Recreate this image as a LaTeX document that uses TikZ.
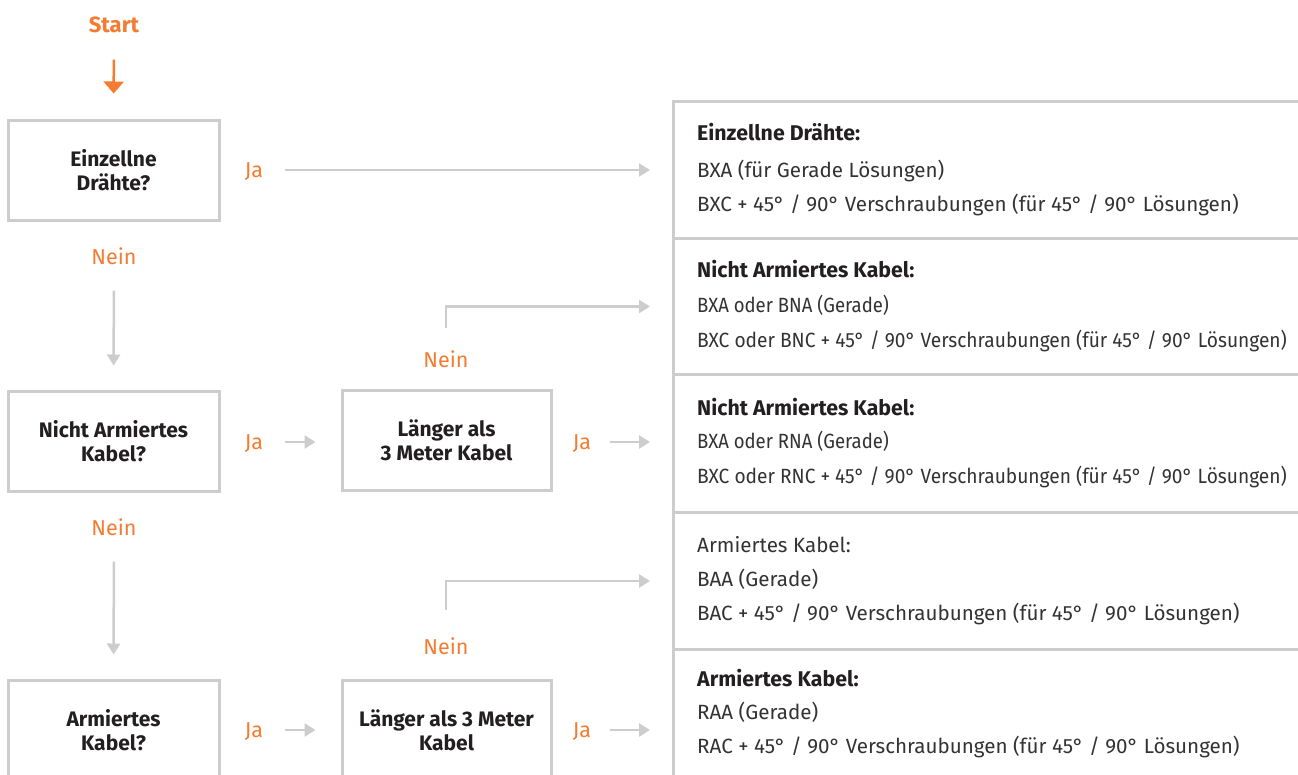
\documentclass[tikz,border=0pt]{standalone}
\usepackage{fontspec}
\usepackage{graphicx}
\setmainfont{Fira Sans}
\usetikzlibrary{arrows.meta}
\definecolor{orng}{HTML}{F47B30}
\definecolor{lgray}{HTML}{CDCDCD}
\definecolor{txt}{HTML}{231F20}
\definecolor{btxt}{HTML}{333333}
\newcommand{\tight}[2]{\scalebox{#1}[1]{#2}}
\tikzset{
 qbox/.style={draw=lgray, line width=3pt, minimum width=211pt, minimum height=100pt, align=center,
   font=\bfseries\fontsize{21}{24}\selectfont, text=txt, inner sep=0pt},
 lbl/.style={text=orng, font=\fontsize{21.5}{22}\selectfont, inner sep=0pt, text height=15pt, text depth=0pt},
 garrow/.style={draw=lgray, line width=2.5pt, -{Triangle[length=11pt,width=13pt]}},
 oarrow/.style={draw=orng, line width=2.5pt, -{Triangle[length=12pt,width=20pt]}},
 sect/.style={draw=lgray, line width=3pt, anchor=north west, minimum width=640pt, inner sep=0pt},
 head/.style={anchor=base west, font=\bfseries\fontsize{21.3}{22}\selectfont, text=txt, inner sep=0pt},
 body/.style={anchor=base west, font=\fontsize{20.6}{22}\selectfont, text=btxt, inner sep=0pt},
}
\begin{document}
\begin{tikzpicture}[x=1pt,y=-1pt]
\path[use as bounding box, clip] (0,0) rectangle (1298,774);
\fill[white] (0,0) rectangle (1298,774);

% left column
\node[lbl, font=\bfseries\fontsize{22}{22}\selectfont] (start) at (114,25) {Start};
\node[qbox] (q1) at (113.5,170) {Einzellne\\Drähte?};
\node[lbl] (ja1) at (254,170) {Ja};
\node[lbl] (nein1) at (114,257) {Nein};
\node[qbox] (q2) at (113.5,441) {Nicht Armiertes\\Kabel?};
\node[lbl] (ja2) at (254,442) {Ja};
\node[qbox, minimum width=209pt] (q3) at (446.5,440) {Länger als\\3 Meter Kabel};
\node[lbl] (ja3) at (582,442) {Ja};
\node[lbl] (nein3) at (446,360) {Nein};
\node[lbl] (nein2) at (114,528) {Nein};
\node[qbox] (q4) at (113.5,730) {Armiertes\\Kabel?};
\node[lbl] (ja4) at (254,730) {Ja};
\node[qbox, minimum width=209pt] (q5) at (446.5,730) {Länger als 3 Meter\\Kabel};
\node[lbl] (ja5) at (582,730) {Ja};
\node[lbl] (nein5) at (446,647) {Nein};

% right panel sections
\node[sect, minimum height=137pt] (s1) at (672,100) {};
\node[sect, minimum height=136pt] (s2) at (672,237) {};
\node[sect, minimum height=138pt] (s3) at (672,373) {};
\node[sect, minimum height=137pt] (s4) at (672,511) {};
\node[sect, minimum height=164pt] (s5) at (672,648) {};

\node[head] (h1) at (697,140) {Einzellne Drähte:};
\node[body] (b1a) at (697,177) {BXA (für Gerade Lösungen)};
\node[body] (b1b) at (697,211) {BXC + 45° / 90° Verschraubungen (für 45° / 90° Lösungen)};

\node[head] (h2) at (697,277) {Nicht Armiertes Kabel:};
\node[body] (b2a) at (697,312) {\tight{0.9}{BXA oder BNA (Gerade)}};
\node[body] (b2b) at (697,347) {\tight{0.93}{BXC oder BNC + 45° / 90° Verschraubungen (für 45° / 90° Lösungen)}};

\node[head] (h3) at (697,415) {Nicht Armiertes Kabel:};
\node[body] (b3a) at (697,448) {\tight{0.9}{BXA oder RNA (Gerade)}};
\node[body] (b3b) at (697,483) {\tight{0.93}{BXC oder RNC + 45° / 90° Verschraubungen (für 45° / 90° Lösungen)}};

\node[body] (h4) at (697,552) {Armiertes Kabel:};
\node[body] (b4a) at (697,586) {BAA (Gerade)};
\node[body] (b4b) at (697,620) {BAC + 45° / 90° Verschraubungen (für 45° / 90° Lösungen)};

\node[head] (h5) at (697,686) {Armiertes Kabel:};
\node[body] (b5a) at (697,719) {RAA (Gerade)};
\node[body] (b5b) at (697,753) {RAC + 45° / 90° Verschraubungen (für 45° / 90° Lösungen)};

% connectors
\draw[oarrow, shorten <=27pt, shorten >=25pt] (start.south) -- (q1.north);
\draw[garrow, line width=2pt, shorten <=22pt, shorten >=22pt] (ja1.east) -- (ja1.east -| s1.west);
\draw[garrow, shorten <=26pt, shorten >=24pt] (nein1.south) -- (q2.north);
\draw[garrow, shorten <=22pt, shorten >=25pt] (ja2.east) -- (ja2.east -| q3.west);
\draw[garrow, shorten <=19pt, shorten >=22pt] (ja3.east) -- (ja3.east -| s3.west);
\draw[garrow, shorten <=24pt, shorten >=22pt] (nein3.north) |- (s2.west);
\draw[garrow, shorten <=26pt, shorten >=24pt] (nein2.south) -- (q4.north);
\draw[garrow, shorten <=22pt, shorten >=25pt] (ja4.east) -- (ja4.east -| q5.west);
\draw[garrow, shorten <=19pt, shorten >=22pt] (ja5.east) -- (ja5.east -| s5.west);
\draw[garrow, shorten <=29pt, shorten >=22pt] (nein5.north) |- (s4.west);
\end{tikzpicture}
\end{document}
